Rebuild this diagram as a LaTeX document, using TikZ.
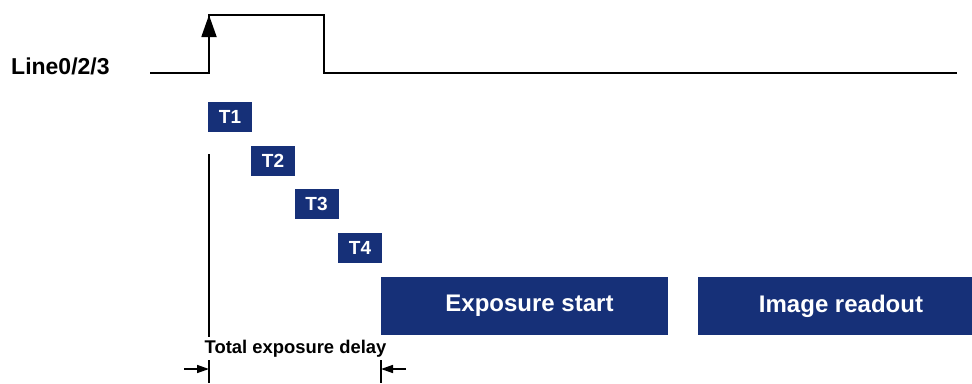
\documentclass[tikz,border=0pt]{standalone}
\usepackage{fontspec}
\setmainfont{Liberation Sans}
\usetikzlibrary{arrows.meta}
\definecolor{boxblue}{RGB}{22,48,120}
\begin{document}
\begin{tikzpicture}[x=1pt,y=-1pt,
  sig/.style={line width=1.8pt,line join=miter},
  tbox/.style={fill=boxblue,text=white,font=\bfseries\fontsize{19}{19}\selectfont,minimum width=44pt,minimum height=30pt,inner sep=0pt},
  bigbox/.style={fill=boxblue,text=white,font=\bfseries\fontsize{24}{24}\selectfont,minimum height=58pt,inner sep=0pt},
  dim/.style={line width=1.5pt,-{Triangle[width=8pt,length=12pt]}}]
\useasboundingbox (0,0) rectangle (972,383);
% signal
\coordinate (s0) at (150,73);
\coordinate (s1) at (209,73);
\coordinate (s2) at (209,15);
\coordinate (s3) at (324,15);
\coordinate (s4) at (324,73);
\coordinate (s5) at (957,73);
\draw[sig] (s0) -- (s1) -- (s2) -- (s3) -- (s4) -- (s5);
\coordinate (am) at (209,40);
\draw[line width=1.8pt,-{Triangle[width=15pt,length=22pt]}] (am) -- (s2);
\node[font=\bfseries\fontsize{23}{23}\selectfont,anchor=base west,inner sep=0pt] (lbl) at (11,74) {Line0/2/3};
% T boxes
\node[tbox] (t1) at (230,116.5) {T1};
\node[tbox] (t2) at (273,161) {T2};
\node[tbox] (t3) at (316.5,204) {T3};
\node[tbox] (t4) at (360,248) {T4};
% big boxes
\node[bigbox,minimum width=287pt] (exp) at (524.5,306) {\hspace{10pt}Exposure start};
\node[bigbox,minimum width=275pt] (read) at (835,306) {\hspace{12pt}Image readout};
% delay
\node[font=\bfseries\fontsize{18.4}{18.4}\selectfont,inner sep=0pt] (delay) at (295.5,349) {Total exposure delay};
\coordinate (v1a) at (209,154);
\coordinate (v1b) at (209,337);
\coordinate (v1c) at (209,360);
\coordinate (v1d) at (209,383);
\coordinate (v2c) at (381,360);
\coordinate (v2d) at (381,383);
\draw[line width=1.5pt] (v1a) -- (v1b);
\draw[line width=1.5pt] (v1c) -- (v1d);
\draw[line width=1.5pt] (v2c) -- (v2d);
\coordinate (la) at (184,369);
\coordinate (lb) at (209,369);
\coordinate (ra) at (406,369);
\coordinate (rb) at (381,369);
\draw[dim] (la) -- (lb);
\draw[dim] (ra) -- (rb);
\end{tikzpicture}
\end{document}
